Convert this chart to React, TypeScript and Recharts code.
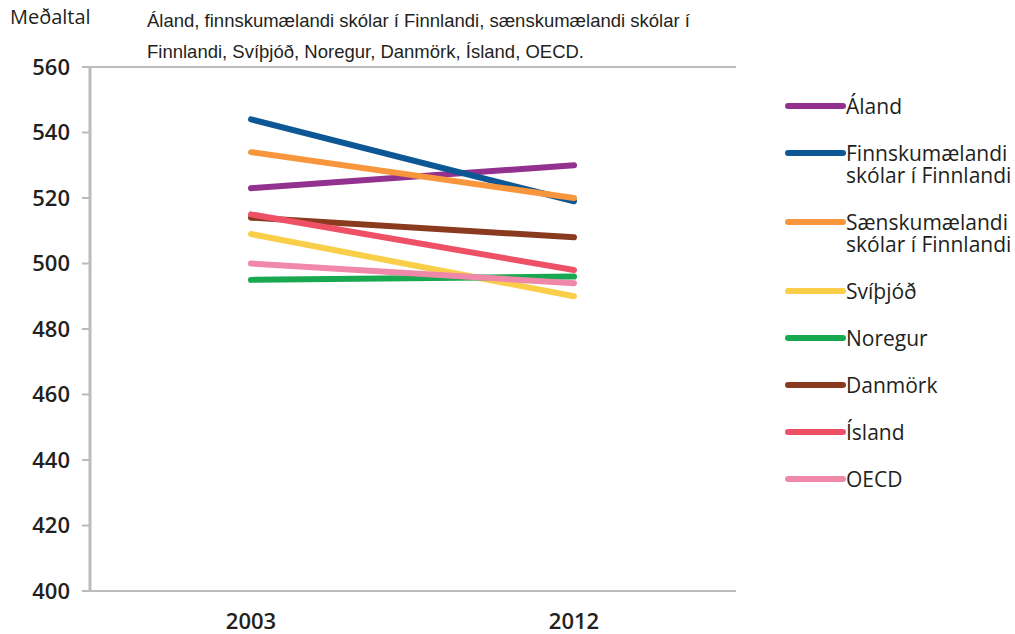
import { CartesianGrid, Line, LineChart, XAxis, YAxis } from "recharts";

const years = ["2003", "2012"];

const aland = [523, 530];
const finnsk = [544, 519];
const saensk = [534, 520];
const svithjod = [509, 490];
const noregur = [495, 496];
const danmork = [514, 508];
const island = [515, 498];
const oecd = [500, 494];

const yTicks = [400, 420, 440, 460, 480, 500, 520, 540, 560];

const series = [
  { key: "aland", label: "Áland", values: aland, color: "#93318f" },
  { key: "finnsk", label: "Finnskumælandi\nskólar í Finnlandi", values: finnsk, color: "#0d5894" },
  { key: "saensk", label: "Sænskumælandi\nskólar í Finnlandi", values: saensk, color: "#f7963c" },
  { key: "svithjod", label: "Svíþjóð", values: svithjod, color: "#f9cf4a" },
  { key: "noregur", label: "Noregur", values: noregur, color: "#17a850" },
  { key: "danmork", label: "Danmörk", values: danmork, color: "#8a3b1f" },
  { key: "island", label: "Ísland", values: island, color: "#ee5166" },
  { key: "oecd", label: "OECD", values: oecd, color: "#f088aa" },
];

const rows = years.map((year, i) => {
  const row: Record<string, string | number> = { year };
  series.forEach((s) => {
    row[s.key] = s.values[i];
  });
  return row;
});

const gridColor = "#b9bcbc";
const textColor = "#231f20";
const numFont = "'Open Sans', sans-serif";

export default function App() {
  return (
    <div style={{ position: "absolute", left: 0, top: 0, width: 1015, height: 634, background: "#fff" }}>
      <div
        style={{
          position: "absolute",
          left: 10,
          top: 3,
          fontFamily: numFont,
          fontSize: 20,
          color: textColor,
          lineHeight: "27px",
        }}
      >
        Meðaltal
      </div>
      <div
        style={{
          position: "absolute",
          left: 147,
          top: 5,
          fontFamily: "'Liberation Sans', Arial, sans-serif",
          fontSize: 18.5,
          color: textColor,
          lineHeight: "31px",
          whiteSpace: "nowrap",
        }}
      >
        Áland, finnskumælandi skólar í Finnlandi, sænskumælandi skólar í
        <br />
        Finnlandi, Svíþjóð, Noregur, Danmörk, Ísland, OECD.
      </div>

      <LineChart
        width={1015}
        height={634}
        data={rows}
        margin={{ top: 67, right: 279, bottom: 0, left: 0 }}
      >
        <CartesianGrid vertical={false} stroke={gridColor} strokeWidth={2} />
        <XAxis
          xAxisId="edges"
          type="number"
          domain={[0, 2]}
          ticks={[0, 1, 2]}
          tickFormatter={() => ""}
          height={0}
          tickSize={5}
          axisLine={{ stroke: gridColor, strokeWidth: 3 }}
          tickLine={{ stroke: gridColor, strokeWidth: 2 }}
        />
        <XAxis
          xAxisId="yr"
          dataKey="year"
          padding={{ left: 161, right: 162 }}
          height={43}
          axisLine={false}
          tickLine={false}
          tickSize={0}
          tickMargin={22}
          tick={{ fill: textColor, fontSize: 22, fontFamily: numFont, fontWeight: 600 }}
        />
        <YAxis
          yAxisId="left"
          domain={[400, 560]}
          ticks={yTicks}
          width={90}
          interval={0}
          tickSize={8}
          tickMargin={12}
          axisLine={{ stroke: gridColor, strokeWidth: 3 }}
          tickLine={{ stroke: gridColor, strokeWidth: 2 }}
          tick={{ fill: textColor, fontSize: 22, fontFamily: numFont, fontWeight: 600 }}
        />
        <YAxis
          yAxisId="right"
          orientation="right"
          domain={[400, 560]}
          width={0}
          tick={false}
          tickLine={false}
          axisLine={{ stroke: gridColor, strokeWidth: 2 }}
        />
        {series.map((s) => (
          <Line
            key={s.key}
            xAxisId="yr"
            yAxisId="left"
            dataKey={s.key}
            name={s.label}
            stroke={s.color}
            strokeWidth={6}
            strokeLinecap="round"
            dot={false}
            activeDot={false}
            isAnimationActive={false}
          />
        ))}
      </LineChart>

      {/* legend on the right */}
      <div style={{ position: "absolute", left: 785, top: 95 }}>
        {series.map((s) => (
          <div key={s.key} style={{ display: "flex", alignItems: "flex-start", marginBottom: 25 }}>
            <div
              style={{
                width: 61,
                height: 6,
                borderRadius: 3,
                background: s.color,
                marginTop: 8,
                flexShrink: 0,
              }}
            />
            <div
              style={{
                fontFamily: numFont,
                fontSize: 21,
                lineHeight: "22px",
                color: textColor,
                whiteSpace: "pre-line",
              }}
            >
              {s.label}
            </div>
          </div>
        ))}
      </div>
    </div>
  );
}
